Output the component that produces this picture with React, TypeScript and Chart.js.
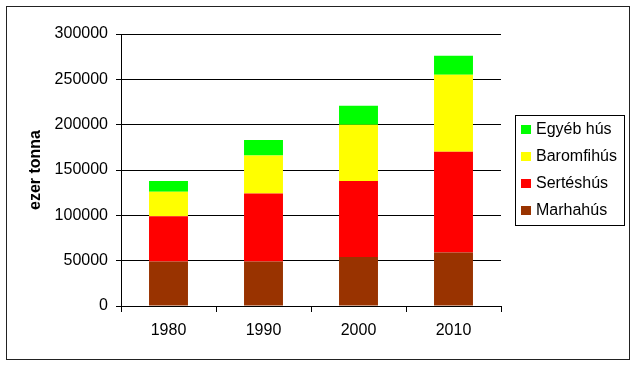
import React, { useEffect, useRef } from "react";
import { Chart, registerables } from "chart.js";

Chart.register(...registerables);

const categories = ["1980", "1990", "2000", "2010"];
const seriesNames = ["Marhahús", "Sertéshús", "Baromfihús", "Egyéb hús"];
const marhahus = [49000, 49000, 54000, 59000];
const serteshus = [50000, 75000, 84000, 111000];
const baromfihus = [27000, 42000, 62000, 85000];
const egyebhus = [12000, 17000, 21000, 21000];
const seriesColors = ["#993300", "#FF0000", "#FFFF00", "#00FF00"];
const yTitle = "ezer tonna";

const FONT = "'Liberation Sans', Arial, sans-serif";

const boxLegend = {
  id: "boxLegend",
  afterDraw(chart: any) {
    const ctx = chart.ctx;
    const ds = chart.data.datasets;
    const x0 = 515.5, y0 = 115.5, w = 109, h = 110;
    ctx.save();
    ctx.strokeStyle = "#000";
    ctx.lineWidth = 1;
    ctx.strokeRect(x0, y0, w, h);
    ctx.font = `16px ${FONT}`;
    ctx.textBaseline = "alphabetic";
    ctx.textAlign = "left";
    const n = ds.length;
    for (let i = 0; i < n; i++) {
      const d = ds[n - 1 - i];
      const base = 134 + i * 26.9;
      ctx.fillStyle = d.backgroundColor;
      ctx.fillRect(521, Math.round(base - 9), 10, 9);
      ctx.fillStyle = "#000";
      ctx.fillText(d.label, 536, Math.round(base));
    }
    ctx.restore();
  },
};

const frame = {
  id: "frame",
  beforeDraw(chart: any) {
    const ctx = chart.ctx;
    ctx.save();
    ctx.fillStyle = "#fff";
    ctx.fillRect(0, 0, chart.width, chart.height);
    ctx.strokeStyle = "#222";
    ctx.lineWidth = 1;
    ctx.strokeRect(6.5, 6.5, 623, 353);
    ctx.restore();
  },
};

export default function App() {
  const ref = useRef<HTMLCanvasElement>(null);
  useEffect(() => {
    const values = [marhahus, serteshus, baromfihus, egyebhus];
    const chart = new Chart(ref.current!, {
      type: "bar",
      data: {
        labels: categories,
        datasets: seriesNames.map((name, i) => ({
          label: name,
          data: values[i],
          backgroundColor: seriesColors[i],
          borderWidth: 0,
          categoryPercentage: 1,
          barPercentage: 0.41,
        })),
      },
      options: {
        animation: false,
        responsive: false,
        maintainAspectRatio: false,
        layout: { padding: { top: 34, right: 138, bottom: 0, left: 0 } },
        plugins: { legend: { display: false }, tooltip: { enabled: false } },
        scales: {
          x: {
            stacked: true,
            offset: true,
            grid: {
              offset: true,
              drawOnChartArea: false,
              drawTicks: true,
              tickLength: 6,
              color: "#000",
            },
            border: { color: "#000", width: 1 },
            ticks: { color: "#000", font: { family: FONT, size: 16 }, padding: 9 },
            afterFit: (s: any) => {
              s.height = 62;
            },
          },
          y: {
            stacked: true,
            min: 0,
            max: 300000,
            grid: { color: "#000", tickLength: 5 },
            border: { color: "#000", width: 1 },
            ticks: {
              stepSize: 50000,
              color: "#000",
              font: { family: FONT, size: 16 },
              padding: 8,
              callback: (v: any) => String(v),
            },
            title: {
              display: true,
              text: yTitle,
              color: "#000",
              font: { family: FONT, size: 16, weight: "bold" },
              padding: { top: 26, bottom: 0 },
            },
            afterFit: (s: any) => {
              s.width = 121;
            },
          },
        },
      },
      plugins: [frame, boxLegend],
    });
    return () => chart.destroy();
  }, []);
  return (
    <div style={{ position: "absolute", left: 0, top: 0, width: 639, height: 368 }}>
      <canvas ref={ref} width={639} height={368} style={{ display: "block" }} />
    </div>
  );
}
